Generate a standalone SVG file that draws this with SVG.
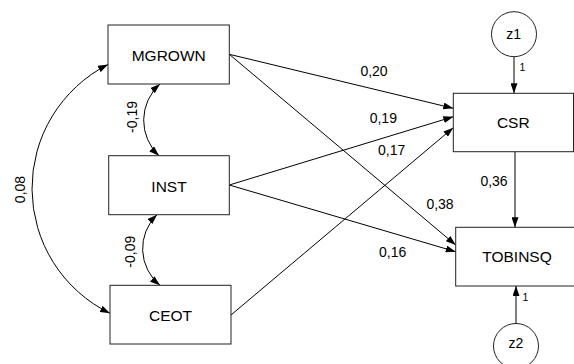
<svg xmlns="http://www.w3.org/2000/svg" width="574" height="364" viewBox="0 0 574 364">
  <defs>
    <marker id="arrow" viewBox="0 0 10 7" refX="10" refY="3.5" markerUnits="userSpaceOnUse" markerWidth="10" markerHeight="7" orient="auto-start-reverse">
      <path d="M0,0 L10,3.5 L0,7 z" fill="#000"/>
    </marker>
    <style>
      .box { fill: #fff; stroke: #222; stroke-width: 1; }
      .err { fill: #fff; stroke: #222; stroke-width: 1; }
      .edge { fill: none; stroke: #000; stroke-width: 1; marker-end: url(#arrow); }
      .cov { fill: none; stroke: #000; stroke-width: 1; marker-start: url(#arrow); marker-end: url(#arrow); }
      .name { font-family: "Liberation Sans", Arial, sans-serif; font-size: 15.5px; fill: #000; text-anchor: middle; }
      .lbl { font-family: "Liberation Sans", Arial, sans-serif; font-size: 14px; fill: #000; text-anchor: middle; }
      .one { font-family: "Liberation Sans", Arial, sans-serif; font-size: 10.5px; fill: #000; }
    </style>
  </defs>

  <!-- paths, correlations and their estimates -->
  <g id="connectors">
    <line class="edge" x1="229.3" y1="54.3" x2="453.3" y2="108.3"/>
    <line class="edge" x1="229.3" y1="54.3" x2="455.7" y2="245"/>
    <line class="edge" x1="229.3" y1="185" x2="453.3" y2="116.7"/>
    <line class="edge" x1="229.3" y1="185" x2="455.7" y2="251.7"/>
    <line class="edge" x1="231" y1="315" x2="453.3" y2="127.7"/>
    <line class="edge" x1="515" y1="151.7" x2="515" y2="227.3"/>
    <line class="edge" x1="514" y1="56.7" x2="514" y2="93.3"/>
    <line class="edge" x1="516" y1="323.5" x2="516" y2="286"/>

    <path class="cov" d="M160,84 A48.5,48.5 0 0 0 159,155.7"/>
    <path class="cov" d="M157,214.7 A47.3,47.3 0 0 0 160,285.3"/>
    <path class="cov" d="M108,64.5 A139,139 0 0 0 110,313.3"/>

    <text class="lbl" x="374" y="76">0,20</text>
    <text class="lbl" x="383.3" y="122.7">0,19</text>
    <text class="lbl" x="391.7" y="155">0,17</text>
    <text class="lbl" x="440" y="209">0,38</text>
    <text class="lbl" x="392.7" y="256.7">0,16</text>
    <text class="lbl" x="494" y="186">0,36</text>
    <text class="one" x="519.5" y="71">1</text>
    <text class="one" x="522.5" y="300.7">1</text>
    <text class="lbl" transform="translate(137,117) rotate(-90)">-0,19</text>
    <text class="lbl" transform="translate(135,251.7) rotate(-90)">-0,09</text>
    <text class="lbl" transform="translate(25,189.5) rotate(-90)">0,08</text>
  </g>

  <g id="MGROWN">
    <rect class="box" x="108" y="25" width="121.3" height="59"/>
    <text class="name" x="168.7" y="61">MGROWN</text>
  </g>
  <g id="INST">
    <rect class="box" x="108.7" y="155.7" width="120.6" height="59"/>
    <text class="name" x="169" y="191.5">INST</text>
  </g>
  <g id="CEOT">
    <rect class="box" x="110" y="285.3" width="121" height="58.7"/>
    <text class="name" x="170.5" y="320.5">CEOT</text>
  </g>
  <g id="CSR">
    <rect class="box" x="453.3" y="93.3" width="120.2" height="58.4"/>
    <text class="name" x="513.3" y="128.3">CSR</text>
  </g>
  <g id="TOBINSQ">
    <rect class="box" x="455.7" y="227.3" width="123" height="58.7"/>
    <text class="name" x="517" y="261.7">TOBINSQ</text>
  </g>
  <g id="z1">
    <circle class="err" cx="514" cy="34.2" r="22.5"/>
    <text class="lbl" x="513.7" y="39">z1</text>
  </g>
  <g id="z2">
    <circle class="err" cx="516" cy="346" r="22.5"/>
    <text class="lbl" x="516" y="348.3">z2</text>
  </g>
</svg>
